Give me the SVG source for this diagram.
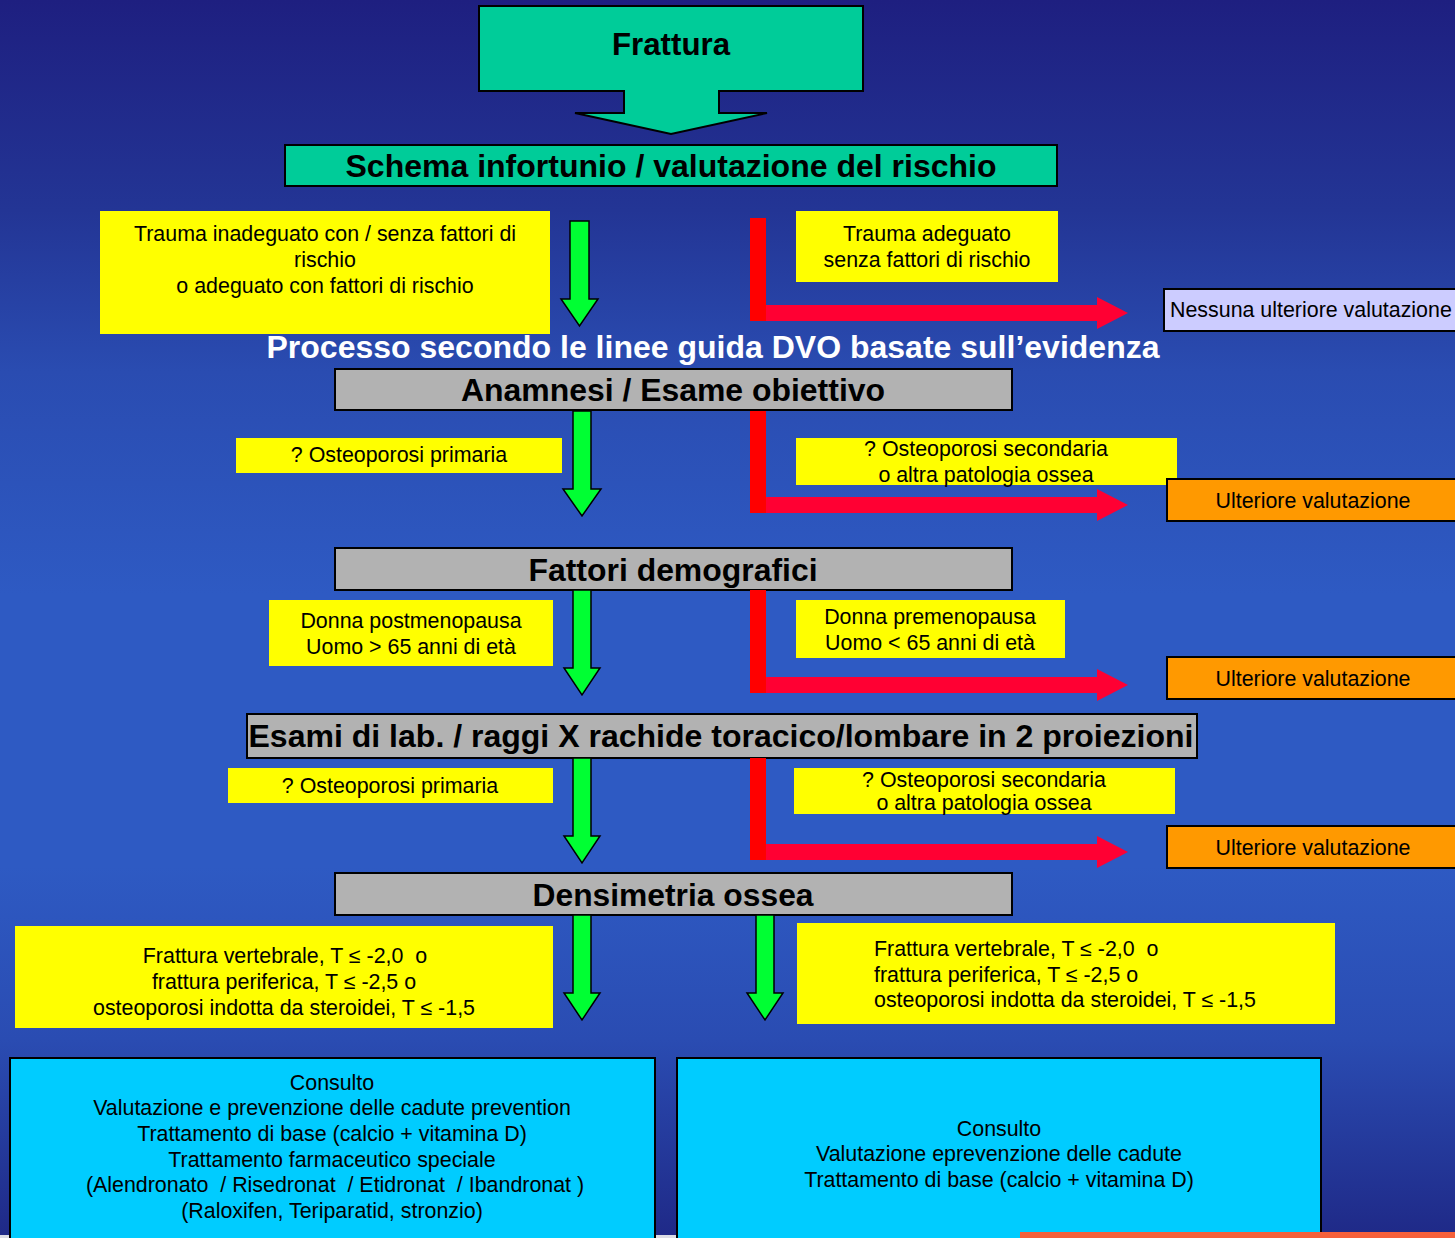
<svg xmlns="http://www.w3.org/2000/svg" width="1455" height="1238" viewBox="0 0 1455 1238">
  <defs>
    <linearGradient id="bg" x1="0" y1="0" x2="0" y2="1">
      <stop offset="0" stop-color="#1e1f80"/>
      <stop offset="0.17" stop-color="#233595"/>
      <stop offset="0.3" stop-color="#2a4cb1"/>
      <stop offset="0.48" stop-color="#2e5ac3"/>
      <stop offset="0.7" stop-color="#2e5ac3"/>
      <stop offset="0.84" stop-color="#2a4cb2"/>
      <stop offset="1" stop-color="#1f2987"/>
    </linearGradient>
    <style>
      text { font-family: "Liberation Sans", Arial, sans-serif; fill: #000; white-space: pre; }
      .t { font-size: 21.4px; text-anchor: middle; }
      .tl { font-size: 21.4px; text-anchor: start; }
      .h { font-size: 32px; font-weight: bold; text-anchor: middle; }
      .hw { font-size: 32px; font-weight: bold; text-anchor: middle; fill: #fff; }
      .teal { fill: #00cc99; stroke: #000; stroke-width: 2; }
      .grey { fill: #b2b2b2; stroke: #000; stroke-width: 2; }
      .yel { fill: #ffff00; }
      .orange { fill: #ff9900; stroke: #000; stroke-width: 2; }
      .lilac { fill: #ccccff; stroke: #000; stroke-width: 2; }
      .cyan { fill: #00ccff; stroke: #000; stroke-width: 2; }
      .go { fill: #00ff33; stroke: #000; stroke-width: 1.5; stroke-linejoin: miter; }
      .stop { fill: #ff0000; }
      .side { fill: #ff0033; }
    </style>
  </defs>

  <!-- background -->
  <rect x="0" y="0" width="1455" height="1238" fill="url(#bg)"/>
  <rect x="0" y="1235" width="680" height="3" fill="#dcdde6"/>

  <!-- start node: block arrow -->
  <g id="frattura">
    <path class="teal" d="M479,6 H863 V91 H719 V113 H767 L671,134 L575,113 H624 V91 H479 Z"/>
    <text class="h" x="671" y="55" textLength="118" lengthAdjust="spacingAndGlyphs">Frattura</text>
  </g>

  <g id="schema">
    <rect class="teal" x="285" y="145" width="772" height="41"/>
    <text class="h" x="671" y="177" textLength="651" lengthAdjust="spacingAndGlyphs">Schema infortunio / valutazione del rischio</text>
  </g>

  <g id="trauma-inadeguato">
    <rect class="yel" x="100" y="211" width="450" height="123"/>
    <text class="t" x="325" y="241">Trauma inadeguato con / senza fattori di</text>
    <text class="t" x="325" y="267">rischio</text>
    <text class="t" x="325" y="293">o adeguato con fattori di rischio</text>
  </g>

  <g id="trauma-adeguato">
    <rect class="yel" x="796" y="211" width="262" height="71"/>
    <text class="t" x="927" y="241">Trauma adeguato</text>
    <text class="t" x="927" y="267">senza fattori di rischio</text>
  </g>

  <g id="nessuna">
    <rect class="lilac" x="1164" y="289" width="300" height="42"/>
    <text class="tl" x="1170" y="317">Nessuna ulteriore valutazione</text>
  </g>

  <g id="processo">
    <text class="hw" x="713" y="358" textLength="893" lengthAdjust="spacingAndGlyphs">Processo secondo le linee guida DVO basate sull’evidenza</text>
  </g>

  <g id="anamnesi">
    <rect class="grey" x="335" y="369" width="677" height="41"/>
    <text class="h" x="673" y="401" textLength="424" lengthAdjust="spacingAndGlyphs">Anamnesi / Esame obiettivo</text>
  </g>

  <g id="primaria-1">
    <rect class="yel" x="236" y="438" width="326" height="35"/>
    <text class="t" x="399" y="462">? Osteoporosi primaria</text>
  </g>

  <g id="secondaria-1">
    <rect class="yel" x="796" y="438" width="381" height="47"/>
    <text class="t" x="986" y="456">? Osteoporosi secondaria</text>
    <text class="t" x="986" y="482">o altra patologia ossea</text>
  </g>

  <g id="ulteriore-1">
    <rect class="orange" x="1167" y="479" width="300" height="42"/>
    <text class="t" x="1313" y="508">Ulteriore valutazione</text>
  </g>

  <g id="demografici">
    <rect class="grey" x="335" y="548" width="677" height="42"/>
    <text class="h" x="673" y="581" textLength="289" lengthAdjust="spacingAndGlyphs">Fattori demografici</text>
  </g>

  <g id="postmenopausa">
    <rect class="yel" x="269" y="600" width="284" height="66"/>
    <text class="t" x="411" y="628">Donna postmenopausa</text>
    <text class="t" x="411" y="654">Uomo &gt; 65 anni di età</text>
  </g>

  <g id="premenopausa">
    <rect class="yel" x="796" y="600" width="269" height="58"/>
    <text class="t" x="930" y="624">Donna premenopausa</text>
    <text class="t" x="930" y="650">Uomo &lt; 65 anni di età</text>
  </g>

  <g id="ulteriore-2">
    <rect class="orange" x="1167" y="657" width="300" height="42"/>
    <text class="t" x="1313" y="686">Ulteriore valutazione</text>
  </g>

  <g id="esami">
    <rect class="grey" x="247" y="714" width="950" height="44"/>
    <text class="h" x="721" y="747" textLength="945" lengthAdjust="spacingAndGlyphs">Esami di lab. / raggi X rachide toracico/lombare in 2 proiezioni</text>
  </g>

  <g id="primaria-2">
    <rect class="yel" x="228" y="768" width="325" height="35"/>
    <text class="t" x="390" y="793">? Osteoporosi primaria</text>
  </g>

  <g id="secondaria-2">
    <rect class="yel" x="794" y="768" width="381" height="46"/>
    <text class="t" x="984" y="787">? Osteoporosi secondaria</text>
    <text class="t" x="984" y="810">o altra patologia ossea</text>
  </g>

  <g id="ulteriore-3">
    <rect class="orange" x="1167" y="826" width="300" height="42"/>
    <text class="t" x="1313" y="855">Ulteriore valutazione</text>
  </g>

  <g id="densimetria">
    <rect class="grey" x="335" y="873" width="677" height="42"/>
    <text class="h" x="673" y="906" textLength="281" lengthAdjust="spacingAndGlyphs">Densimetria ossea</text>
  </g>

  <g id="soglie-sinistra">
    <rect class="yel" x="15" y="926" width="538" height="102"/>
    <text class="t" x="285" y="963" xml:space="preserve">Frattura vertebrale, T ≤ -2,0  o</text>
    <text class="t" x="284" y="989">frattura periferica, T ≤ -2,5 o</text>
    <text class="t" x="284" y="1015">osteoporosi indotta da steroidei, T ≤ -1,5</text>
  </g>

  <g id="soglie-destra">
    <rect class="yel" x="797" y="923" width="538" height="101"/>
    <text class="tl" x="874" y="956" xml:space="preserve">Frattura vertebrale, T ≤ -2,0  o</text>
    <text class="tl" x="874" y="982">frattura periferica, T ≤ -2,5 o</text>
    <text class="tl" x="874" y="1007">osteoporosi indotta da steroidei, T ≤ -1,5</text>
  </g>

  <g id="terapia">
    <rect class="cyan" x="10" y="1058" width="645" height="190"/>
    <text class="t" x="332" y="1090">Consulto</text>
    <text class="t" x="332" y="1115">Valutazione e prevenzione delle cadute prevention</text>
    <text class="t" x="332" y="1141">Trattamento di base (calcio + vitamina D)</text>
    <text class="t" x="332" y="1167">Trattamento farmaceutico speciale</text>
    <text class="t" x="335" y="1192" xml:space="preserve">(Alendronato  / Risedronat  / Etidronat  / Ibandronat )</text>
    <text class="t" x="332" y="1218">(Raloxifen, Teriparatid, stronzio)</text>
  </g>

  <g id="base">
    <rect class="cyan" x="677" y="1058" width="644" height="190"/>
    <text class="t" x="999" y="1136">Consulto</text>
    <text class="t" x="999" y="1161">Valutazione eprevenzione delle cadute</text>
    <text class="t" x="999" y="1187">Trattamento di base (calcio + vitamina D)</text>
  </g>

  <rect x="1020" y="1232" width="435" height="6" fill="#f5603a"/>

  <!-- connectors -->
  <g id="connectors">
    <!-- green: continue down the pathway -->
    <path class="go" d="M570,221 H589 V299 H598 L579.5,326 L561,299 H570 Z"/>
    <path class="go" d="M573,411 H591 V489 H601 L582,516 L563,489 H573 Z"/>
    <path class="go" d="M573,590 H591 V668 H600 L582,695 L564,668 H573 Z"/>
    <path class="go" d="M573,758 H591 V836 H600 L582,863 L564,836 H573 Z"/>
    <path class="go" d="M573,915 H591 V993 H600 L582,1020 L564,993 H573 Z"/>
    <path class="go" d="M756,915 H774 V993 H783 L765,1020 L747,993 H756 Z"/>

    <!-- red: branch off to the right -->
    <rect class="stop" x="750" y="218" width="16" height="103"/>
    <path class="side" d="M766,305 H1097 V297 L1128,313 L1097,329 V321 H766 Z"/>

    <rect class="stop" x="750" y="411" width="16" height="102"/>
    <path class="side" d="M766,497 H1097 V489 L1128,505 L1097,521 V513 H766 Z"/>

    <rect class="stop" x="750" y="590" width="16" height="103"/>
    <path class="side" d="M766,677 H1097 V669 L1128,685 L1097,701 V693 H766 Z"/>

    <rect class="stop" x="750" y="758" width="16" height="102"/>
    <path class="side" d="M766,844 H1097 V836 L1128,852 L1097,868 V860 H766 Z"/>
  </g>
</svg>
